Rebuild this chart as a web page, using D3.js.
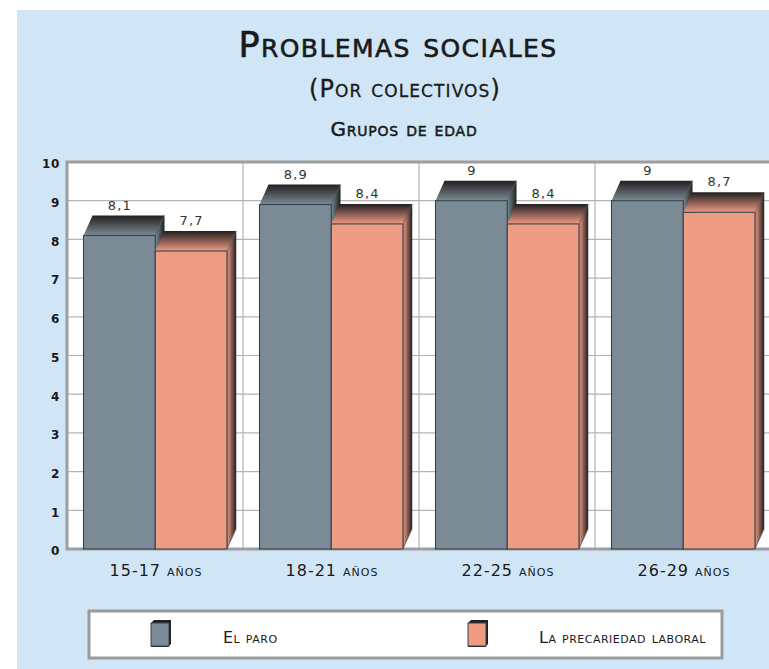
<!DOCTYPE html>
<html>
<head>
<meta charset="utf-8">
<script src="https://cdn.jsdelivr.net/npm/d3@7"></script>
<style>
  html, body { margin: 0; background: #fff; }
  svg { display: block; }
  text { font-family: "DejaVu Sans", sans-serif; fill: #1a1a1a; font-variant: small-caps; }
</style>
</head>
<body>
<svg></svg>
<script>
const categories = ['15-17 años', '18-21 años', '22-25 años', '26-29 años'];
const seriesNames = ['El paro', 'La precariedad laboral'];
const paro = [8.1, 8.9, 9, 9];
const precariedad = [7.7, 8.4, 8.4, 8.7];
const yTicks = [0, 1, 2, 3, 4, 5, 6, 7, 8, 9, 10];

const width = 769;
const height = 669;
const plot = { left: 67, right: 771, top: 162, bottom: 549 };
const depthX = 9;
const depthY = 20;
const colors = ['#7b8b95', '#ee9b84'];

const svg = d3.select('svg')
  .attr('width', width)
  .attr('height', height);

const fmt = d => String(d).replace('.', ',');

// ====================================
// Scales
// ====================================
const xScale = d3.scaleBand()
  .domain(categories)
  .range([plot.left, plot.right]);

const xInner = d3.scaleBand()
  .domain([0, 1])
  .range([16.5, 160]);

const yScale = d3.scaleLinear()
  .domain([0, 10])
  .range([plot.bottom, plot.top]);

// ====================================
// Gradients
// ====================================
const defs = svg.append('defs');
colors.forEach((c, i) => {
  const top = defs.append('linearGradient')
    .attr('id', `top${i}`)
    .attr('x1', 0).attr('y1', 0).attr('x2', 0).attr('y2', 1);
  top.append('stop').attr('offset', 0).attr('stop-color', '#231f20');
  top.append('stop').attr('offset', 1).attr('stop-color', c);

  const side = defs.append('linearGradient')
    .attr('id', `side${i}`)
    .attr('x1', 0).attr('y1', 0).attr('x2', 1).attr('y2', 0);
  side.append('stop').attr('offset', 0).attr('stop-color', c);
  side.append('stop').attr('offset', 1).attr('stop-color', '#231f20');
});

// ====================================
// Background
// ====================================
svg.append('rect')
  .attr('x', 17)
  .attr('y', 10)
  .attr('width', width - 17)
  .attr('height', height - 10)
  .attr('fill', '#d0e5f5');

svg.append('rect')
  .attr('x', plot.left)
  .attr('y', plot.top)
  .attr('width', width - plot.left)
  .attr('height', plot.bottom - plot.top)
  .attr('fill', '#fff');

// ====================================
// Grid
// ====================================
svg.append('g')
  .selectAll('line')
  .data(yTicks.slice(1, -1))
  .enter()
  .append('line')
  .attr('x1', plot.left)
  .attr('x2', width)
  .attr('y1', d => yScale(d))
  .attr('y2', d => yScale(d))
  .attr('stroke', '#b4b4b4')
  .attr('stroke-width', 1.2);

svg.append('g')
  .selectAll('line')
  .data(categories.slice(1))
  .enter()
  .append('line')
  .attr('x1', d => xScale(d))
  .attr('x2', d => xScale(d))
  .attr('y1', plot.top)
  .attr('y2', plot.bottom)
  .attr('stroke', '#b4b4b4')
  .attr('stroke-width', 1.2);

svg.append('path')
  .attr('d', `M${width},${plot.top}H${plot.left}V${plot.bottom}H${width}`)
  .attr('fill', 'none')
  .attr('stroke', '#9e9e9e')
  .attr('stroke-width', 3);

// ====================================
// Bars
// ====================================
const bars = [];
[paro, precariedad].forEach((values, s) => {
  values.forEach((v, c) => bars.push({ s, c, v }));
});

const barGroup = svg.selectAll('g.bar')
  .data(bars)
  .enter()
  .append('g')
  .classed('bar', true)
  .attr('transform', d => `translate(${xScale(categories[d.c]) + xInner(d.s)},${yScale(d.v)})`);

const barW = xInner.bandwidth();

barGroup.append('path')
  .attr('d', `M0,0L${depthX},${-depthY}H${barW + depthX}L${barW},0Z`)
  .attr('fill', d => `url(#top${d.s})`);

barGroup.append('path')
  .attr('d', d => `M${barW},0L${barW + depthX},${-depthY}V${plot.bottom - yScale(d.v) - depthY}L${barW},${plot.bottom - yScale(d.v)}Z`)
  .attr('fill', d => `url(#side${d.s})`)
  .attr('stroke', '#3a444c')
  .attr('stroke-width', 0.6);

barGroup.append('rect')
  .attr('width', barW)
  .attr('height', d => plot.bottom - yScale(d.v))
  .attr('fill', d => colors[d.s])
  .attr('stroke', '#36434c')
  .attr('stroke-width', 1.1);

barGroup.append('text')
  .text(d => fmt(d.v))
  .attr('x', barW / 2 + depthX / 2 - 4)
  .attr('y', -depthY - 6)
  .attr('text-anchor', 'middle')
  .attr('font-size', 13)
  .attr('letter-spacing', 1.2)
  .style('fill', '#333');

// ====================================
// Axis labels
// ====================================
const yAxis = svg.append('g')
  .attr('transform', `translate(${plot.left - 7},2)`)
  .call(d3.axisLeft(yScale).tickValues(yTicks).tickSize(0).tickPadding(0));
yAxis.select('.domain').remove();
yAxis.selectAll('text')
  .attr('font-family', null)
  .attr('font-size', 12)
  .attr('font-weight', 'bold')
  .attr('fill', '#1a1a1a')
  .attr('letter-spacing', 0.6);

const xAxis = svg.append('g')
  .attr('transform', `translate(0,${plot.bottom})`)
  .call(d3.axisBottom(xScale).tickSize(0).tickPadding(16));
xAxis.select('.domain').remove();
xAxis.selectAll('text')
  .attr('font-size', 16)
  .attr('letter-spacing', 1)
  .attr('fill', '#1a1a1a')
  .attr('dx', 1);

// ====================================
// Titles
// ====================================
svg.append('text')
  .text('Problemas sociales')
  .attr('x', 398)
  .attr('y', 57)
  .attr('text-anchor', 'middle')
  .attr('font-size', 35)
  .attr('letter-spacing', 1.4)
  .attr('stroke', '#1a1a1a')
  .attr('stroke-width', 0.6);

svg.append('text')
  .text('(Por colectivos)')
  .attr('x', 405)
  .attr('y', 97)
  .attr('text-anchor', 'middle')
  .attr('font-size', 24)
  .attr('letter-spacing', 1.1)
  .attr('stroke', '#1a1a1a')
  .attr('stroke-width', 0.3);

svg.append('text')
  .text('Grupos de edad')
  .attr('x', 404)
  .attr('y', 136)
  .attr('text-anchor', 'middle')
  .attr('font-size', 20)
  .attr('letter-spacing', 0.8)
  .attr('stroke', '#1a1a1a')
  .attr('stroke-width', 0.5);

// ====================================
// Legend
// ====================================
svg.append('rect')
  .attr('x', 89)
  .attr('y', 611)
  .attr('width', 633)
  .attr('height', 47)
  .attr('fill', '#fff')
  .attr('stroke', '#9a9a9a')
  .attr('stroke-width', 3);

const legendX = [151, 468];
const legendTextX = [223, 539];
const legend = svg.selectAll('g.legend')
  .data(seriesNames)
  .enter()
  .append('g')
  .classed('legend', true);

legend.append('path')
  .attr('d', (d, i) => `M${legendX[i]},623l3,-3h17v24l-3,3h-17z`)
  .attr('fill', '#231f20');

legend.append('rect')
  .attr('x', (d, i) => legendX[i])
  .attr('y', 623)
  .attr('width', 18)
  .attr('height', 23)
  .attr('fill', (d, i) => colors[i])
  .attr('stroke', '#36434c')
  .attr('stroke-width', 1);

legend.append('text')
  .text(d => d)
  .attr('x', (d, i) => legendTextX[i])
  .attr('y', 643)
  .attr('font-size', 16)
  .attr('letter-spacing', 0.5);
</script>
</body>
</html>
